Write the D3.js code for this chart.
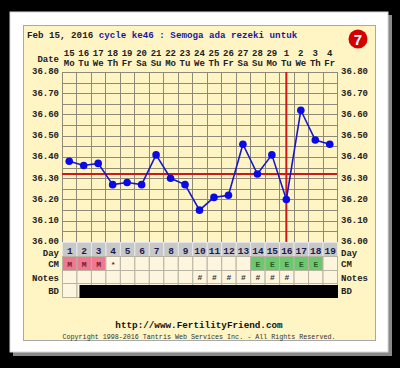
<!DOCTYPE html>
<html>
<head>
<meta charset="utf-8">
<script src="https://cdnjs.cloudflare.com/ajax/libs/d3/7.8.5/d3.min.js"></script>
<style>
  body { margin: 0; background: #000; }
  svg { display: block; }
  text { font-family: "Liberation Mono", "DejaVu Sans Mono", monospace; font-weight: bold; }
</style>
</head>
<body>
<div id="chart"></div>
<script>
// chart data
var days = d3.range(1, 20);
var dates = ["15","16","17","18","19","20","21","22","23","24","25","26","27","28","29","1","2","3","4"];
var weekdays = ["Mo","Tu","We","Th","Fr","Sa","Su","Mo","Tu","We","Th","Fr","Sa","Su","Mo","Tu","We","Th","Fr"];
var temps = [36.38,36.36,36.37,36.27,36.28,36.27,36.41,36.30,36.27,36.15,36.21,36.22,36.46,36.32,36.41,36.20,36.62,36.48,36.46];
var cm = ["M","M","M","*","","","","","","","","","","E","E","E","E","E",""];
var notes = ["","","","","","","","","","#","#","#","#","#","#","#","","",""];
var bd = [0,1,1,1,1,1,1,1,1,1,1,1,1,1,1,1,1,1,1];
var tempTicks = [36.0,36.1,36.2,36.3,36.4,36.5,36.6,36.7,36.8];
var coverline = 36.32;
var ovulationDay = 16;
var cycleDay = "7";

var W = 400, H = 368;
var svg = d3.select("#chart").append("svg").attr("width", W).attr("height", H);

// frame
svg.append("rect").attr("x", 13).attr("y", 15).attr("width", 379).attr("height", 341).attr("fill", "#8a8a8a");
svg.append("rect").attr("x", 10).attr("y", 12).attr("width", 378).attr("height", 340)
  .attr("fill", "#fff").attr("stroke", "#d8d8d8");
svg.append("rect").attr("x", 23.5).attr("y", 25.5).attr("width", 352).attr("height", 315)
  .attr("fill", "#fff4c4").attr("stroke", "#a8a8a8");

var x = d3.scaleBand().domain(days).range([62, 337]);
var y = d3.scaleLinear().domain([36.0, 36.8]).range([242, 72]);

// title
var title = svg.append("text").attr("x", 27).attr("y", 38).attr("font-size", 9.2);
title.append("tspan").attr("fill", "#222").text("Feb 15, 2016 ");
title.append("tspan").attr("fill", "#1a1aa0").text("cycle ke46 : Semoga ada rezeki untuk");

svg.append("circle").attr("cx", 358).attr("cy", 39).attr("r", 9.5).attr("fill", "#d40000");
svg.append("text").attr("x", 358).attr("y", 44.5).attr("text-anchor", "middle")
  .attr("fill", "#fff").attr("font-size", 15).style("font-family", "Arial, 'Liberation Sans', sans-serif")
  .text(cycleDay);

// date header
svg.append("text").attr("x", 59).attr("y", 62).attr("text-anchor", "end").attr("font-size", 9).attr("fill", "#222").text("Date");
svg.selectAll(".dnum").data(days).enter().append("text")
  .attr("x", d => x(d) + x.bandwidth() / 2).attr("y", 56).attr("text-anchor", "middle")
  .attr("font-size", 9).attr("fill", "#222").text((d, i) => dates[i]);
svg.selectAll(".wday").data(days).enter().append("text")
  .attr("x", d => x(d) + x.bandwidth() / 2).attr("y", 66).attr("text-anchor", "middle")
  .attr("font-size", 9).attr("fill", "#222").text((d, i) => weekdays[i]);

// grid
var plot = svg.append("g");
plot.append("rect").attr("x", 62).attr("y", 72).attr("width", 275).attr("height", 170).attr("fill", "#fff4c4");
var hLines = d3.range(0, 17).map(i => 36 + i * 0.05);
plot.selectAll(".hg").data(hLines).enter().append("line")
  .attr("x1", 62).attr("x2", 337).attr("y1", d => Math.round(y(d)) + 0.5).attr("y2", d => Math.round(y(d)) + 0.5)
  .attr("stroke", "#8f8a78").attr("stroke-width", 1);
plot.selectAll(".vg").data(days.concat([20])).enter().append("line")
  .attr("x1", d => Math.round(d === 20 ? 337 : x(d)) + 0.5).attr("x2", d => Math.round(d === 20 ? 337 : x(d)) + 0.5)
  .attr("y1", 72).attr("y2", 242).attr("stroke", "#8f8a78");

// axes labels
var fmt = d3.format(".2f");
var leftAxis = svg.append("g").attr("transform", "translate(62,0)")
  .call(d3.axisLeft(y).tickValues(tempTicks).tickFormat(fmt).tickSize(0).tickPadding(3));
var rightAxis = svg.append("g").attr("transform", "translate(337,0)")
  .call(d3.axisRight(y).tickValues(tempTicks).tickFormat(fmt).tickSize(0).tickPadding(4));
[leftAxis, rightAxis].forEach(a => {
  a.select(".domain").remove();
  a.selectAll("text").attr("font-size", 9).attr("fill", "#222").attr("dy", "0.2em")
    .style("font-family", "'Liberation Mono', monospace").style("font-weight", "bold");
});

// coverline and ovulation line
var cx16 = x(ovulationDay) + x.bandwidth() / 2;
plot.append("line").attr("x1", 62).attr("x2", 337).attr("y1", y(coverline)).attr("y2", y(coverline))
  .attr("stroke", "#d01818").attr("stroke-width", 2);
plot.append("line").attr("x1", cx16).attr("x2", cx16).attr("y1", 72).attr("y2", 243)
  .attr("stroke", "#d01818").attr("stroke-width", 2);

// temperature line
var line = d3.line().x((d, i) => x(days[i]) + x.bandwidth() / 2).y(d => y(d));
plot.append("path").datum(temps).attr("d", line).attr("fill", "none")
  .attr("stroke", "#1818c8").attr("stroke-width", 1.6);
plot.selectAll(".pt").data(temps).enter().append("circle")
  .attr("cx", (d, i) => x(days[i]) + x.bandwidth() / 2).attr("cy", d => y(d)).attr("r", 3.8)
  .attr("fill", "#0a0ae6");

// bottom rows
var rows = [
  { name: "Day", y0: 242, h: 14, base: 255.5 },
  { name: "CM", y0: 256, h: 14, base: 267 },
  { name: "Notes", y0: 270, h: 13, base: 280.5 },
  { name: "BD", y0: 283, h: 14, base: 294 }
];
svg.selectAll(".rowlabL").data(rows).enter().append("text")
  .attr("x", 59).attr("y", r => r.base).attr("text-anchor", "end")
  .attr("font-size", 9).attr("fill", "#222").text(r => r.name);
svg.selectAll(".rowlabR").data(rows).enter().append("text")
  .attr("x", 341).attr("y", r => r.base)
  .attr("font-size", 9).attr("fill", "#222").text(r => r.name);

// day row
svg.selectAll(".dayc").data(days).enter().append("rect")
  .attr("x", d => x(d) + 0.5).attr("y", 242.5).attr("width", x.bandwidth()).attr("height", 14)
  .attr("fill", "#c8c8c8").attr("stroke", "#e6e6e6");
svg.selectAll(".dayt").data(days).enter().append("text")
  .attr("x", d => x(d) + x.bandwidth() / 2 + 0.5).attr("y", 253.5).attr("text-anchor", "middle")
  .attr("font-size", 9.5).attr("fill", "#1a1a50").text(d => d);

// cm row
var cmColor = { "M": "#f07890", "E": "#6cc86c" };
svg.selectAll(".cmc").data(days).enter().append("rect")
  .attr("x", d => x(d) + 0.5).attr("y", 256.5).attr("width", x.bandwidth()).attr("height", 14)
  .attr("fill", (d, i) => cmColor[cm[i]] || "#fdf5dd").attr("stroke", "#b8b4a4");
svg.selectAll(".cmt").data(days).enter().append("text")
  .attr("x", d => x(d) + x.bandwidth() / 2 + 0.5).attr("y", 266.5).attr("text-anchor", "middle")
  .attr("font-size", 8).attr("fill", (d, i) => cm[i] === "E" ? "#2a5a2a" : "#702030").text((d, i) => cm[i]);

// notes row
svg.selectAll(".nc").data(days).enter().append("rect")
  .attr("x", d => x(d) + 0.5).attr("y", 270.5).attr("width", x.bandwidth()).attr("height", 13)
  .attr("fill", "#fdf5dd").attr("stroke", "#b8b4a4");
svg.selectAll(".nt").data(days).enter().append("text")
  .attr("x", d => x(d) + x.bandwidth() / 2 + 0.5).attr("y", 280).attr("text-anchor", "middle")
  .attr("font-size", 8).attr("fill", "#333").text((d, i) => notes[i]);

// bd row
svg.selectAll(".bc").data(days).enter().append("rect")
  .attr("x", d => x(d) + 0.5).attr("y", 283.5).attr("width", x.bandwidth()).attr("height", 14)
  .attr("fill", "#fdf5dd").attr("stroke", "#b8b4a4");
var bdDays = days.filter((d, i) => bd[i]);
svg.append("rect")
  .attr("x", x(bdDays[0]) + 3).attr("y", 285)
  .attr("width", x(bdDays[bdDays.length - 1]) + x.bandwidth() - x(bdDays[0]) - 2).attr("height", 13)
  .attr("fill", "#000");

// footer
svg.append("text").attr("x", 199).attr("y", 328).attr("text-anchor", "middle")
  .attr("font-size", 9.3).attr("fill", "#111").text("http://www.FertilityFriend.com");
svg.append("text").attr("x", 199).attr("y", 339).attr("text-anchor", "middle")
  .attr("font-size", 6.7).attr("fill", "#333").style("font-weight", "normal")
  .text("Copyright 1998-2016 Tantris Web Services Inc. - All Rights Reserved.");
</script>
</body>
</html>
